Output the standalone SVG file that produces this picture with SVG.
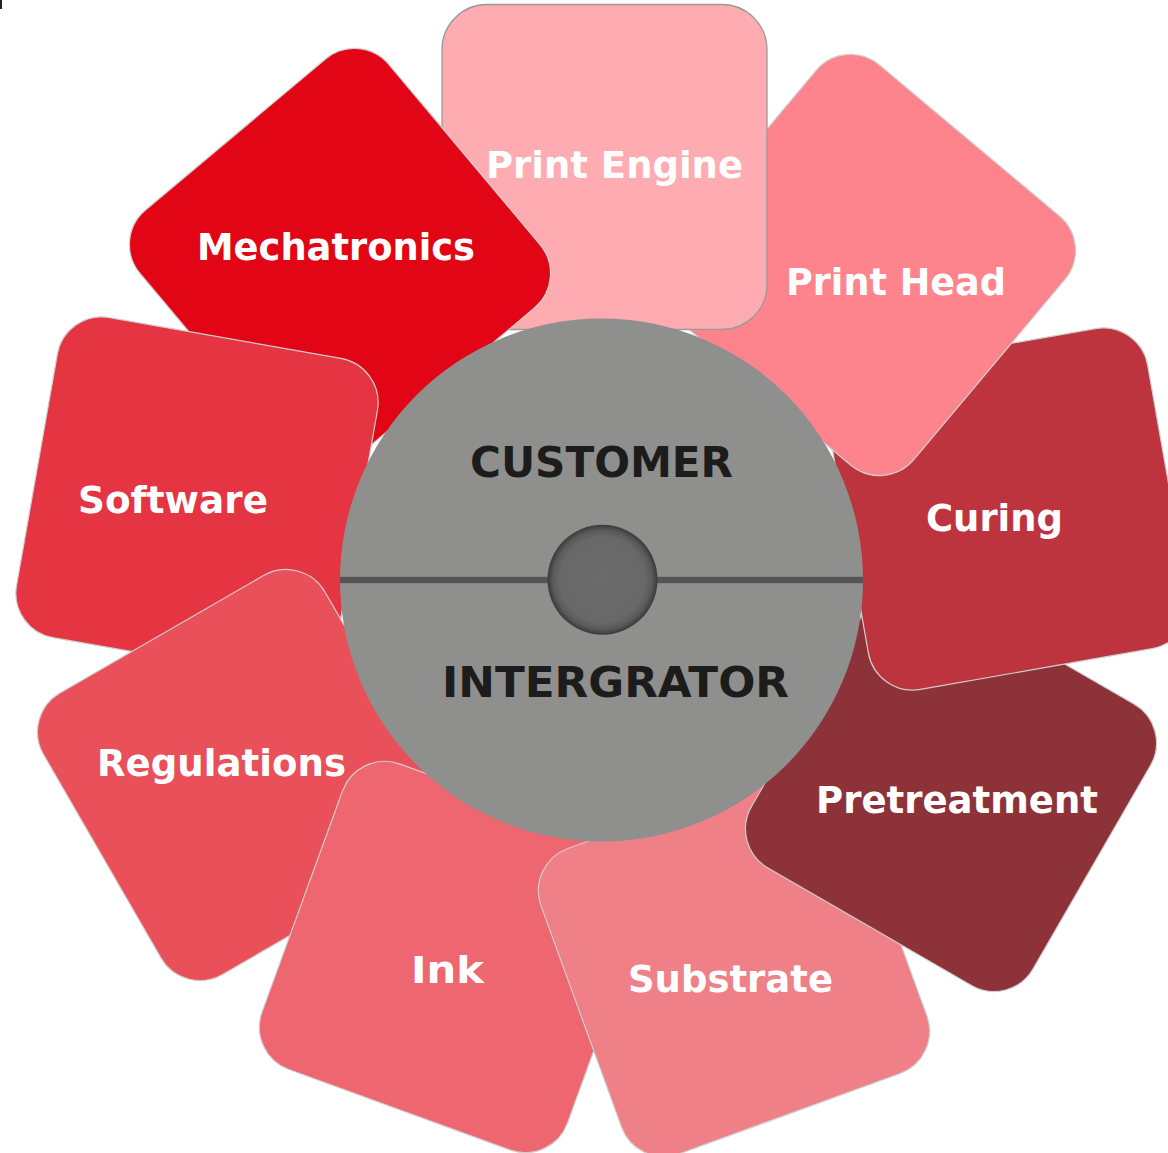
<svg xmlns="http://www.w3.org/2000/svg" xmlns:xlink="http://www.w3.org/1999/xlink" width="1168" height="1153" viewBox="0 0 1168 1153">
  <style>
    .petal { stroke: #cfcfcf; stroke-width: 1.2; }
    .lbl { font-family: "DejaVu Sans", Verdana, sans-serif; font-weight: bold; font-size: 38px; fill: #ffffff; }
    .ctr { font-family: "DejaVu Sans", Verdana, sans-serif; font-weight: bold; font-size: 42px; fill: #1c1c1c; }
  </style>
  <defs>
    <rect id="sq" x="-162.5" y="-162.5" width="325" height="325" rx="45" ry="45"/>
    <clipPath id="clipPE">
      <rect x="420" y="0" width="200" height="340"/>
    </clipPath>
    <radialGradient id="knob" cx="0.5" cy="0.5" r="0.5">
      <stop offset="0" stop-color="#6b6b6b"/>
      <stop offset="0.78" stop-color="#686868"/>
      <stop offset="0.9" stop-color="#5a5a5a"/>
      <stop offset="1" stop-color="#3a3a3a"/>
    </radialGradient>
  </defs>
  <rect width="1168" height="1153" fill="#ffffff"/>
  <rect x="0" y="0" width="2" height="9" fill="#222222"/>

  <g id="n-mechatronics">
    <use href="#sq" class="petal" fill="#E10515" transform="translate(340,259) rotate(-40)"/>
    <text class="lbl" x="197" y="260" textLength="278" lengthAdjust="spacingAndGlyphs">Mechatronics</text>
  </g>
  <g id="n-software">
    <use href="#sq" class="petal" fill="#E53442" transform="translate(197,498) rotate(10)"/>
    <text class="lbl" x="78" y="513" textLength="190" lengthAdjust="spacingAndGlyphs">Software</text>
  </g>
  <g id="n-regulations">
    <use href="#sq" class="petal" fill="#E9505A" transform="translate(243,775) rotate(-30)"/>
    <text class="lbl" x="97" y="776" textLength="249" lengthAdjust="spacingAndGlyphs">Regulations</text>
  </g>
  <g id="n-ink">
    <use href="#sq" class="petal" fill="#EE6670" transform="translate(455,957) rotate(20)"/>
    <text class="lbl" x="411" y="983" textLength="73" lengthAdjust="spacingAndGlyphs">Ink</text>
  </g>
  <g id="n-substrate">
    <use href="#sq" class="petal" fill="#EF8087" transform="translate(734,961) rotate(-20)"/>
    <text class="lbl" x="628" y="992" textLength="205" lengthAdjust="spacingAndGlyphs">Substrate</text>
  </g>
  <g id="n-pretreatment">
    <use href="#sq" class="petal" fill="#8E323A" transform="translate(951,786) rotate(30)"/>
    <text class="lbl" x="816" y="813" textLength="282" lengthAdjust="spacingAndGlyphs">Pretreatment</text>
  </g>
  <g id="n-curing">
    <use href="#sq" class="petal" fill="#BD343F" transform="translate(1008,509) rotate(-10)"/>
    <text class="lbl" x="926" y="531" textLength="137" lengthAdjust="spacingAndGlyphs">Curing</text>
  </g>
  <g id="n-printhead">
    <use href="#sq" class="petal" fill="#FD848C" transform="translate(865,265) rotate(40)"/>
    <text class="lbl" x="786" y="295" textLength="220" lengthAdjust="spacingAndGlyphs">Print Head</text>
  </g>
  <g id="n-printengine">
    <rect x="442" y="4.5" width="325" height="325" rx="45" ry="45" fill="#FEABB2" stroke="#9a9a9a" stroke-width="1.3"/>
    <text class="lbl" x="486" y="178" textLength="257" lengthAdjust="spacingAndGlyphs">Print Engine</text>
  </g>
  <use href="#n-mechatronics" clip-path="url(#clipPE)"/>

  <g id="n-center">
    <circle cx="601.5" cy="580" r="261.5" fill="#8F8F8D"/>
    <rect x="340" y="576.8" width="523" height="6.4" fill="#545454"/>
    <circle cx="602.5" cy="579.7" r="55" fill="url(#knob)"/>
    <text class="ctr" x="470" y="477" textLength="263" lengthAdjust="spacingAndGlyphs">CUSTOMER</text>
    <text class="ctr" x="442" y="697" textLength="347" lengthAdjust="spacingAndGlyphs">INTERGRATOR</text>
  </g>
  <g id="connectors"/>
</svg>
